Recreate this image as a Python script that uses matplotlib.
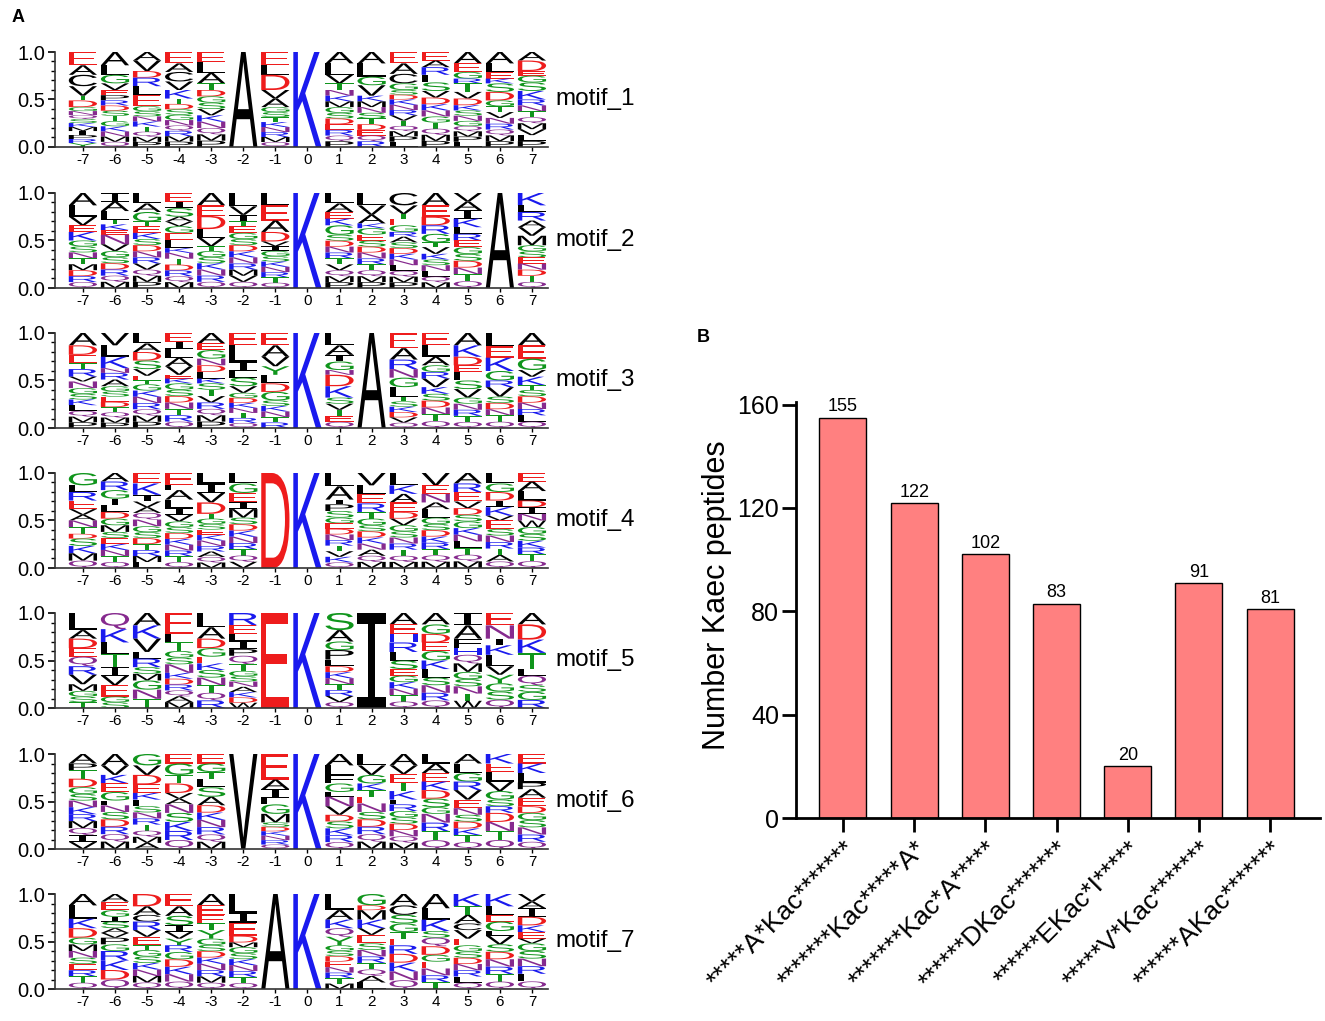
import numpy as np
import matplotlib
matplotlib.use("Agg")
import matplotlib.pyplot as plt
from matplotlib.textpath import TextPath
from matplotlib.patches import PathPatch
from matplotlib.font_manager import FontProperties
from matplotlib.transforms import Affine2D

plt.rcParams['font.family'] = ['Liberation Sans', 'DejaVu Sans']

# ---- panel A: motif logos, each column = "LETTER%HEIGHT ...|tail letters" (top to bottom)
positions = list(range(-7, 8))

motif_1 = [
    "E14 A10 C12 V10 T5 D7|GNQSKMIPRY",
    "A14 L10 G9 V7|EPRDSTGKNMQ",
    "A9 V11 D7 R9 L9 E12|GSNKTQMP",
    "E12 A9 C10 V9 K9|TDSGNQRMP",
    "E11 L11 A11 T7|DGSVKNQMP",
    "A100",
    "E14 L10 D16 V9 A9|GSTKNRMQ",
    "K100",
    "A12 L12 V9 T7|NKMGSDERQP",
    "A12 L14 G9 V11|KMNSTDEQR",
    "E12 A11 C10 G7 S5 D5|KNRVTQMPL",
    "E9 A7 R8 L8 S9 V7 D7|KNGTQMP",
    "A12 E9 G7 R5 T9 V7 D7|KSNGQMPL",
    "A12 L9 E7 K5 S9 D9|GTVNRQMP",
    "A9 D11 E5 G7 S9 K9|RNTQMVLP",
]
motif_2 = [
    "A13 L12 V9 E7 K9|GSNTMDRQ",
    "I9 A10 L9 T5 K6 E5 N10 V7|GSDRQM",
    "L11 A9 G10 T5 E7|KSDNRVQMP",
    "E9 I7 S9 A5 V5 G7 E7 L9 K5|NTDRQM",
    "A13 E11 D14 L9 V9 T5|GSKNRQ",
    "L14 V9 I7 T5 E7|GSDKNRMVQ",
    "L13 E16 A12 D10 V5 I5|GSKNRTQ",
    "K100",
    "L11 A9 E7 K7 G10|SDNRTVQMP",
    "L13 V10 A9 K5 G7|ESDNRTQMP",
    "C13 V9 T5 E7 G7 R5|ASDKNLQMP",
    "A13 E12 D9 R9 G9 T5 V7|KSNLQM",
    "V9 A9 I9 K9 L7 R7 E7|GSDNTQ",
    "A100",
    "K13 L7 R9 A7 V9 M10|GSENDTQ",
]
motif_3 = [
    "A13 D10 E9 T6 R8 V5 N7|GSKLQMP",
    "V13 L12 K12 N5 R7 A7|GSEDTQMP",
    "L11 A9 D9 S9 V7 E5 T4|GKNRQMP",
    "E9 I8 L9 A9 V9 E4 K5|GSDNTRQ",
    "A11 E7 G9 N7 D7 L7 K5|STVRQMP",
    "E13 L17 I10 L7 S9 V7|GDKNTRQ",
    "E13 A12 V10 Y9 L9 D9 G9|SKNTR",
    "K100",
    "L13 A10 I7 G9 N5 D12 K12|SVTEQ",
    "A100",
    "E16 A12 R10 N9 G10 L10 T5|SKDVQ",
    "E13 L12 A9 G7 R7 V9 K7|SDNTQ",
    "A13 K12 D9 E7 L9 S9 V9|GNRTQ",
    "L14 E12 K14 G10 R7 V10|SDNTQ",
    "A13 E14 G12 V7 K9 T5|SDNRLQ",
]
motif_4 = [
    "G13 L7 R9 E9 V6 A6 N7 T7 D5|SKMQ",
    "A9 R9 G9 I7 L7 D7 G7 M7|SEKNTQ",
    "E11 K12 I7 V6 A6 Q7 N7|GSDTRML",
    "E13 L5 A10 L9 I7 V7|GSDKNRTQ",
    "L11 I10 V10 D12 T5|GSEKNRAQM",
    "L11 G10 E10 I7 M9 S7|DKNRTQV",
    "D100",
    "K100",
    "L14 A14 I5 P7 S7|GEDNRTVKQ",
    "V13 L9 E10 R9 T7 G7|SDKNAQM",
    "L13 K9 A9 E10 D7 V7|GSNRTQM",
    "V13 E9 N9 A7 L9|GSDKRTQM",
    "A11 R9 E10 V7 D7 S7|GKNLTQM",
    "L11 G9 D9 I7 K9 V5 E9|SNRTAQ",
    "E9 A10 L10 D7 I7 N7 W7|GSKRTQ",
]
motif_5 = [
    "L18 A9 D10 E9 Q10 R9 V10 M7|GST",
    "Q17 K14 L12 T14 I9 V10 E12|GS",
    "A13 K14 V14 L7 R9 S7 M7|GNT",
    "E22 L9 T9 G7 S7 N9|KDRQAM",
    "L15 A12 D10 G9 E7 K7|SNTQR",
    "R13 E9 L7 I9 P7 Q9 T7|GSNAKDW",
    "E100",
    "K100",
    "S18 A12 G9 P10 L7|DKNTRVQ",
    "I100",
    "A12 E10 H9 R10 L9 S9 E7|GKNTQ",
    "A12 G10 D9 E9 G10 K9 L9|SNRQ",
    "I13 A14 F10 H7 Q9 M9|GSNTW",
    "E13 N14 I7 K10 L12 V9 Y9|GSQ",
    "A12 D16 K14 T17 L7 Q10 S7|GR",
]
motif_6 = [
    "A10 P7 T9 D9 G7 S7 N7|KRMQIV",
    "A12 V10 K9 E9 G9 L5 N7|SDRQM",
    "G12 V10 D10 E9 K7 L7|SNRTQMA",
    "E10 G12 T9 D10 V6 A6 N9|SKRQ",
    "E10 G9 T7 L9 S10 A9|DKNRQM",
    "V100",
    "E27 A10 I9 L7 G10 M9|SDKNRQ",
    "K100",
    "A12 L10 F9 G9 L5 N10 V9 D7|SKRQ",
    "L12 V10 G9 K7 T7 E7 N9|SDRQM",
    "A12 V9 E9 T9 K9 L5 R7|GSDNQM",
    "L10 A10 E9 K9 D9 S9 G7|NRTQ",
    "A10 L10 G9 R9 V10 E9 N7|SDKTQ",
    "K10 E9 L10 V10 G9 S7 R7|DNTQ",
    "E10 K10 L10 P7 A9 E9 D7|GSNRQ",
]
motif_7 = [
    "A12 L14 K10 D10 G7 M7 N7|SERTQ",
    "A8 E9 G7 I5 S7 A5 V5 P7 G7 R10|KDQ",
    "D13 A9 C7 R9 V7 E9 T5|GSKNMQ",
    "E13 A10 S10 I7 V7 Y7 R7|GDKNQ",
    "A12 E10 E9 T7 Y9|GSDKNRMQ",
    "L20 I10 E14 D7 M5|GSKNRTQ",
    "A100",
    "K100",
    "L17 A10 K9 Q9 Y9|GSDENRTM",
    "G12 D5 M10 K9 V7 E9|SNRTQAL",
    "A12 C10 S9 G9 T7 E7 R9|DKNQ",
    "A15 L12 K12 S7 Q9 D9|GENRT",
    "K13 T9 A9 C7 V9 E7|GSDNRLQ",
    "K13 L9 E7 G10 L5 V9|SDNRTQ",
    "V8 A7 I9 D9 K7 E7 V5|GSNRLQ",
]
motifs = [motif_1, motif_2, motif_3, motif_4, motif_5, motif_6, motif_7]
motif_names = ["motif_%d" % (i + 1) for i in range(7)]

# ---- panel B: bar chart
bar_labels = ["*****A*Kac*******", "*******Kac*****A*", "*******Kac*A*****",
              "******DKac*******", "******EKac*I*****", "*****V*Kac*******",
              "******AKac*******"]
bar_values = [155, 122, 102, 83, 20, 91, 81]

colors = {}
for c in "DE":
    colors[c] = "#ee1c1c"
for c in "KRH":
    colors[c] = "#1a1aee"
for c in "GSTY":
    colors[c] = "#10951c"
for c in "NQ":
    colors[c] = "#862a8e"
for c in "AVLIPFMWC":
    colors[c] = "#000000"

fp_main = FontProperties(family="Liberation Sans")
fp_i = FontProperties(family="DejaVu Sans Mono")


def parse_column(s):
    major, _, tail = s.partition("|")
    items = []
    for tok in major.split():
        items.append((tok[0], float(tok[1:]) / 100.0))
    used = sum(h for _, h in items)
    if tail:
        rest = max(0.0, 1.0 - used) / len(tail)
        items += [(c, rest) for c in tail]
    return items


def draw_letter(ax, ch, x, y, w, h):
    fp = fp_i if ch == "I" else fp_main
    tp = TextPath((0, 0), ch, size=1, prop=fp)
    bb = tp.get_extents()
    tr = (Affine2D().translate(-bb.x0, -bb.y0)
          .scale(w / bb.width, h / bb.height)
          .translate(x - w / 2, y))
    ax.add_patch(PathPatch(tr.transform_path(tp), fc=colors[ch], ec="none", lw=0))


fig = plt.figure(figsize=(13.25, 10.21), dpi=100)
W, H = 1325.0, 1021.0

zero_y = [147, 288, 428, 568, 708, 849, 989]
for mi, cols in enumerate(motifs):
    y0 = zero_y[mi]
    ax = fig.add_axes([55 / W, 1 - y0 / H, (548 - 55) / W, 95 / H])
    for pos, col in zip(positions, cols):
        top = 1.0
        for ch, h in parse_column(col):
            draw_letter(ax, ch, pos, top - h, 0.88, h)
            top -= h
    ax.set_xlim(-7.87, 7.5)
    ax.set_ylim(0, 1)
    ax.set_xticks(positions)
    ax.set_xticklabels([str(p) for p in positions], fontsize=11)
    ax.set_yticks([0, 0.5, 1.0])
    ax.set_yticklabels(["0.0", "0.5", "1.0"], fontsize=14.5)
    ax.set_yticks(np.arange(0, 1.01, 0.1), minor=True)
    ax.tick_params(axis="y", which="major", length=5, width=1.2, pad=2)
    ax.tick_params(axis="y", which="minor", length=3, width=1.0)
    ax.tick_params(axis="x", length=3, width=1.0, pad=1)
    for side in ["top", "right"]:
        ax.spines[side].set_visible(False)
    for side in ["left", "bottom"]:
        ax.spines[side].set_linewidth(1.2)
        ax.spines[side].set_color("#333333")
    ax.text(555 / W, 1 - (y0 - 48) / H, motif_names[mi], transform=fig.transFigure,
            fontsize=17.5, va="center", ha="left")

fig.text(12 / W, 1 - 18 / H, "A", fontsize=13, fontweight="bold", va="center")
fig.text(697 / W, 1 - 337 / H, "B", fontsize=13, fontweight="bold", va="center")

# bar chart
axb = fig.add_axes([796 / W, 1 - 818 / H, (1320 - 796) / W, (818 - 402) / H])
xs = np.arange(len(bar_values))
axb.bar(xs, bar_values, width=0.66, color="#ff8080", edgecolor="black", linewidth=1.0)
for x, v in zip(xs, bar_values):
    axb.text(x, v + 0.8, str(v), ha="center", va="bottom", fontsize=13)
axb.set_xlim(-0.66, 6.70)
axb.set_ylim(0, 161)
axb.set_yticks([0, 40, 80, 120, 160])
axb.tick_params(axis="y", labelsize=18, length=10, width=2, pad=2)
axb.tick_params(axis="x", length=10, width=2)
axb.set_xticks(xs)
axb.set_xticklabels(bar_labels, rotation=45, ha="right", rotation_mode="anchor", fontsize=19)
axb.set_ylabel("Number Kaec peptides", fontsize=22, labelpad=0)
axb.yaxis.set_label_coords(-0.122, 0.536)
for side in ["top", "right"]:
    axb.spines[side].set_visible(False)
for side in ["left", "bottom"]:
    axb.spines[side].set_linewidth(2)

fig.savefig("out.png", dpi=100, facecolor="white")
